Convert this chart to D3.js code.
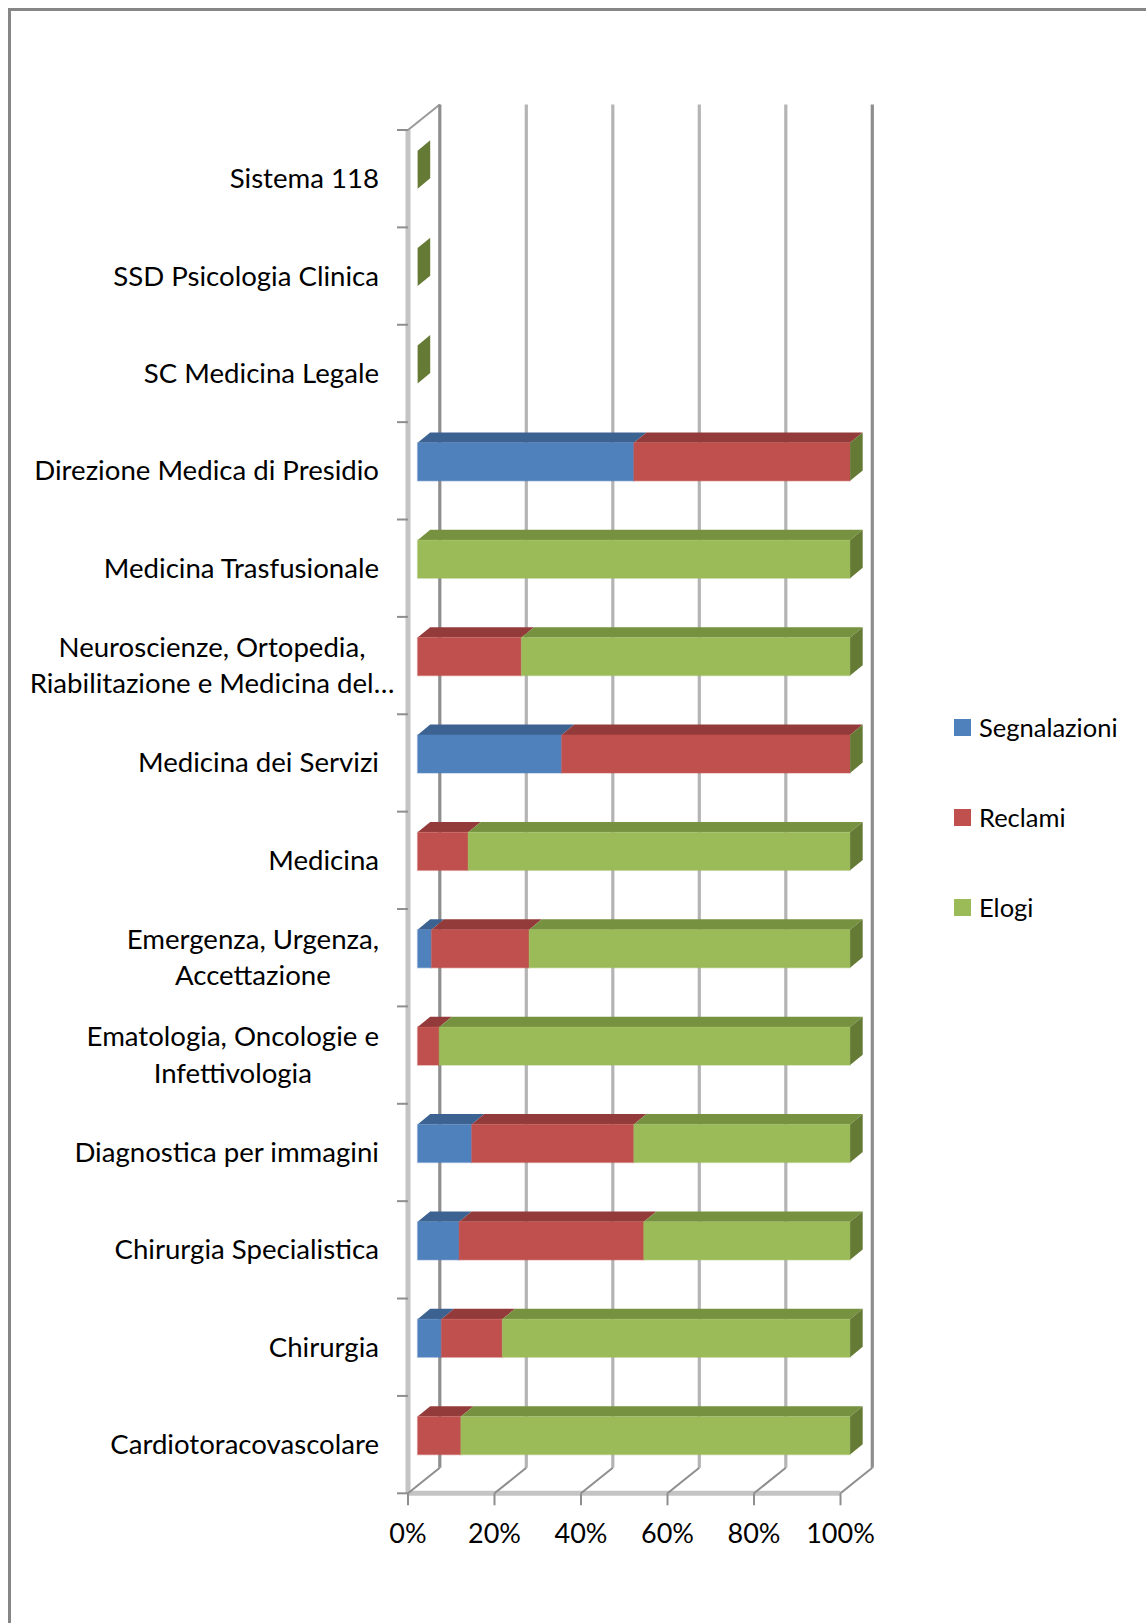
<!DOCTYPE html>
<html>
<head>
<meta charset="utf-8">
<script src="https://cdn.jsdelivr.net/npm/d3@7"></script>
<style>
  html, body { margin: 0; padding: 0; background: #ffffff; }
  svg { display: block; }
  text { font-family: "Lato", "Noto Sans", sans-serif; fill: #000; }
</style>
</head>
<body>
<svg id="chart" width="1146" height="1623"></svg>
<script>
// ---- data (bottom to top, as in the chart) ----
const categories = [
  "Cardiotoracovascolare",
  "Chirurgia",
  "Chirurgia Specialistica",
  "Diagnostica per immagini",
  "Ematologia, Oncologie e\nInfettivologia",
  "Emergenza, Urgenza,\nAccettazione",
  "Medicina",
  "Medicina dei Servizi",
  "Neuroscienze, Ortopedia,\nRiabilitazione e Medicina del…",
  "Medicina Trasfusionale",
  "Direzione Medica di Presidio",
  "SC Medicina Legale",
  "SSD Psicologia Clinica",
  "Sistema 118"
];
const seriesNames = ["Segnalazioni", "Reclami", "Elogi"];
const segnalazioni = [0, 5.5, 9.6, 12.5, 0, 3.2, 0, 33.3, 0, 0, 50, 0, 0, 0];
const reclami      = [10, 14.1, 42.7, 37.5, 5, 22.6, 11.7, 66.7, 24, 0, 50, 0, 0, 0];
const elogi        = [90, 80.4, 47.7, 50, 95, 74.2, 88.3, 0, 76, 100, 0, 0, 0, 0];
const tickValues = [0, 20, 40, 60, 80, 100];
const tickLabels = ["0%", "20%", "40%", "60%", "80%", "100%"];

// ---- styles ----
const frontCol = ["#4f81bd", "#c0504d", "#9bbb59"];
const topCol   = ["#3c6291", "#933b3a", "#76913f"];
const sideCol  = "#657a35";

const svg = d3.select("#chart");

// frame (left and top edges only, rest cut off)
svg.append("path")
  .attr("d", "M9.5,1623 L9.5,9.5 L1146,9.5")
  .attr("fill", "none").attr("stroke", "#868686").attr("stroke-width", 3);

// ---- scales ----
const n = categories.length;
const x = d3.scaleLinear().domain([0, 100]).range([408, 840.5]);
const yBand = d3.scaleBand().domain(d3.range(n)).range([1493.3, 130]).padding(0);
const bw = yBand.bandwidth();
const yC = i => yBand(i) + bw / 2;
const y0 = 1493.3, yTop = 130;
const DX = 31.8, DY = -25.5;   // depth offset of back wall

const rows = categories.map((c, i) => ({
  cat: c, Segnalazioni: segnalazioni[i], Reclami: reclami[i], Elogi: elogi[i]
}));
const stacked = d3.stack().keys(seriesNames)(rows);

const grid = svg.append("g");
// side wall front edge (value axis plane)
grid.append("line")
  .attr("x1", x(0)).attr("x2", x(0)).attr("y1", yTop).attr("y2", y0)
  .attr("stroke", "#c4c4c4").attr("stroke-width", 5);
// floor front edge
grid.append("line")
  .attr("x1", x(0)).attr("x2", x(100)).attr("y1", y0).attr("y2", y0)
  .attr("stroke", "#c4c4c4").attr("stroke-width", 5);
// top diagonal of side wall
grid.append("line")
  .attr("x1", x(0)).attr("y1", yTop).attr("x2", x(0) + DX).attr("y2", yTop + DY)
  .attr("stroke", "#9a9a9a").attr("stroke-width", 2);
// back wall gridlines
tickValues.forEach((v, k) => {
  grid.append("line")
    .attr("x1", x(v) + DX).attr("x2", x(v) + DX)
    .attr("y1", yTop + DY).attr("y2", y0 + DY)
    .attr("stroke", (k === 0 || k === tickValues.length - 1) ? "#8e8e8e" : "#b4b4b4")
    .attr("stroke-width", 3.2);
  // floor diagonals
  grid.append("line")
    .attr("x1", x(v)).attr("y1", y0).attr("x2", x(v) + DX).attr("y2", y0 + DY)
    .attr("stroke", "#8e8e8e").attr("stroke-width", 2);
  // tick marks
  grid.append("line")
    .attr("x1", x(v)).attr("x2", x(v)).attr("y1", y0).attr("y2", y0 + 12)
    .attr("stroke", "#8e8e8e").attr("stroke-width", 2);
});
// category tick marks
d3.range(n + 1).forEach(k => {
  const yy = y0 - k * bw;
  grid.append("line")
    .attr("x1", x(0) - 11).attr("x2", x(0)).attr("y1", yy).attr("y2", yy)
    .attr("stroke", "#8e8e8e").attr("stroke-width", 2);
});

// ---- bars ----
const bx = 9.6, byOff = -9;      // front face offset from axis plane
const ddx = 12.6, ddy = -10.4;   // bar depth
const bh = 38;
const bars = svg.append("g");
d3.range(n).reverse().forEach(i => {
  const top = yC(i) + byOff - bh / 2;
  const bot = top + bh;
  stacked.forEach((s, si) => {
    const a = x(s[i][0]) + bx, b = x(s[i][1]) + bx;
    if (b - a <= 0) return;
    bars.append("path")
      .attr("d", `M${a},${top} L${b},${top} L${b + ddx},${top + ddy} L${a + ddx},${top + ddy} Z`)
      .attr("fill", topCol[si]);
    bars.append("rect")
      .attr("x", a).attr("y", top).attr("width", b - a).attr("height", bh)
      .attr("fill", frontCol[si])
      .attr("stroke", frontCol[si]).attr("stroke-opacity", 0.35).attr("stroke-width", 1.5);
  });
  // end cap (side face of last series)
  const last = stacked[stacked.length - 1][i];
  const e = x(last[1]) + bx;
  bars.append("path")
    .attr("d", `M${e},${top} L${e + ddx},${top + ddy} L${e + ddx},${bot + ddy} L${e},${bot} Z`)
    .attr("fill", sideCol);
});

// ---- category labels ----
const labelRight = 379;
const maxWrapW = 334;   // wrapped labels are boxed to this width
const lineH = 36.5;
const labels = svg.append("g").attr("font-size", 27.6);
categories.forEach((c, i) => {
  const lines = c.split("\n");
  const g = labels.append("g");
  const ts = lines.map((ln, li) => g.append("text")
    .attr("y", yC(i) + 9.5 + (li - (lines.length - 1) / 2) * lineH)
    .attr("text-anchor", "middle")
    .text(ln));
  const widths = ts.map(t => t.node().getComputedTextLength());
  let w = d3.max(widths);
  if (lines.length > 1) w = Math.min(w, maxWrapW);
  ts.forEach(t => t.attr("x", labelRight - w / 2));
});

// ---- value axis labels ----
svg.append("g").selectAll("text").data(tickValues).join("text")
  .attr("x", d => x(d)).attr("y", 1543)
  .attr("text-anchor", "middle").attr("font-size", 27)
  .text((d, k) => tickLabels[k]);

// ---- legend ----
const legend = svg.append("g");
seriesNames.forEach((s, k) => {
  legend.append("rect")
    .attr("x", 954).attr("y", 719 + k * 90).attr("width", 17).attr("height", 17)
    .attr("fill", frontCol[k]);
  legend.append("text")
    .attr("x", 979).attr("y", 736.5 + k * 90).attr("font-size", 25.5)
    .text(s);
});
</script>
</body>
</html>
